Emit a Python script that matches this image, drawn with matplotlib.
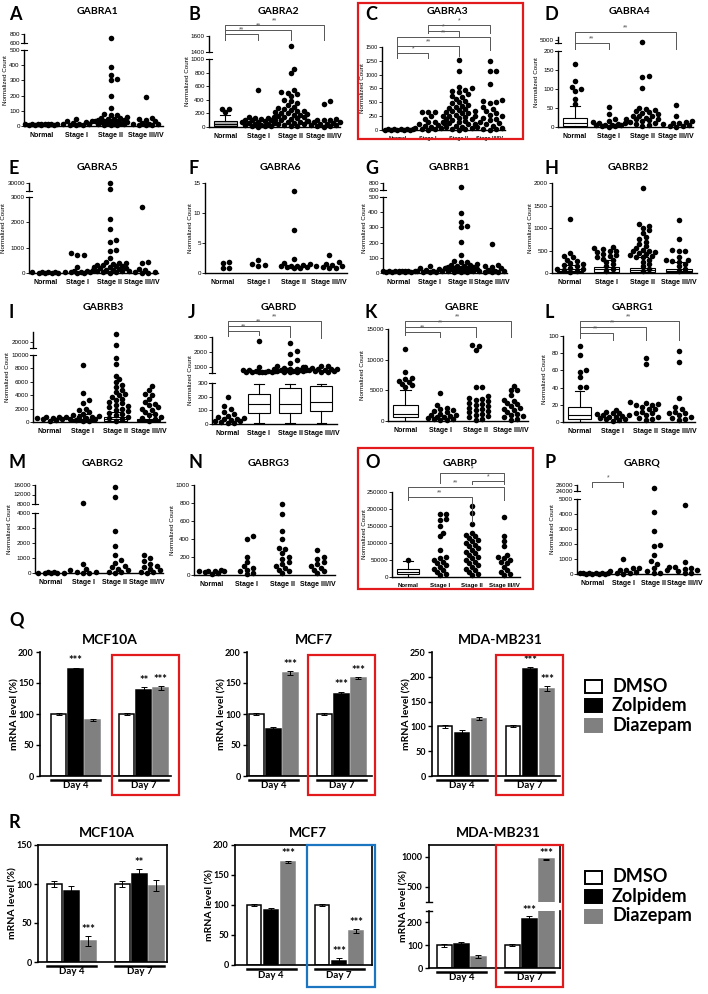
"""GABA-A receptor subunit counts by stage (TCGA) + qPCR bar charts"""

import numpy as np
import matplotlib
matplotlib.use("Agg")
import matplotlib.pyplot as plt
from matplotlib.transforms import blended_transform_factory
from matplotlib.patches import Rectangle
from matplotlib.lines import Line2D

W, H = 708, 994
plt.rcParams["font.family"] = ["Liberation Sans", "DejaVu Sans"]
HEAD = ["Lato", "DejaVu Sans"]

STAGES = ["Normal", "Stage I", "Stage II", "Stage III/IV"]

# ── 1. normalized counts (Normal, I, II, III/IV) ──
GABRA1 = [
    [5, 8, 10, 12, 14, 15, 10, 8, 12, 9, 11, 13, 7],
    [5, 10, 20, 30, 45, 15, 8, 12, 25, 6, 35],
    [720, 390, 335, 310, 300, 200, 120, 80, 75, 70, 60, 50, 50, 45, 45, 40, 40, 35, 35,
     30, 30, 25, 25, 20, 20, 15, 10, 10, 8, 5, 5],
    [190, 55, 45, 40, 30, 20, 15, 12, 10, 8, 5, 5],
]
GABRA2 = [
    [270, 265, 220],
    [550, 150, 140, 135, 130, 120, 110, 100, 100, 90, 80, 70, 60, 60, 50, 40, 30, 30, 20, 15, 10, 5],
    [1480, 850, 790, 540, 510, 500, 480, 450, 400, 380, 350, 330, 300, 280, 260, 250, 240, 230,
     220, 210, 200, 190, 180, 170, 160, 150, 140, 130, 120, 110, 100, 90, 80, 70, 60, 50, 40, 30, 20, 10],
    [380, 340, 120, 110, 100, 100, 90, 80, 70, 60, 50, 40, 30, 30, 20, 10, 5],
]
GABRA2_BOX = {0: (0, 10, 40, 90, 180)}
GABRA3 = [
    [5, 8, 10, 12, 15, 10, 8, 12, 6, 9],
    [330, 320, 320, 250, 200, 150, 140, 120, 100, 90, 80, 60, 40, 30, 20, 10, 5],
    [1270, 1060, 780, 750, 720, 700, 680, 650, 620, 600, 560, 520, 500, 480, 460, 440, 420, 400,
     380, 360, 350, 340, 320, 300, 300, 280, 260, 250, 250, 240, 220, 200, 200, 180, 160, 150,
     140, 120, 100, 100, 80, 60, 50, 40, 20, 10, 5],
    [1240, 1060, 1060, 840, 550, 520, 500, 480, 420, 380, 350, 300, 280, 250, 220, 200, 180, 150,
     120, 100, 80, 60, 40, 20, 10, 5],
]
GABRA4 = [
    [165, 120, 105, 100, 95, 75, 60],
    [52, 35, 20, 15, 12, 10, 10, 8, 6, 5, 5, 4, 3, 2, 1],
    [4900, 135, 132, 103, 50, 48, 45, 42, 40, 38, 35, 30, 30, 28, 25, 22, 20, 20, 18, 15, 12, 10, 8, 5, 3],
    [58, 30, 15, 12, 10, 10, 8, 5, 3, 2, 1],
]
GABRA4_BOX = {0: (0, 2, 10, 25, 55)}
GABRA5 = [
    [10, 20, 15, 25, 30, 20, 10, 15],
    [800, 720, 700, 250, 100, 80, 60, 50, 40, 30, 20, 10, 5],
    [30000, 22500, 2150, 1720, 1300, 1220, 920, 880, 600, 450, 400, 380, 350, 320, 300, 280, 260,
     240, 220, 200, 180, 150, 120, 100, 80, 60, 40, 20, 10],
    [2600, 420, 400, 150, 100, 80, 50, 30, 10, 5],
]
GABRA6 = [
    [1.6, 1.8, 0.8, 0.8],
    [1.5, 2.1, 1.2, 1.3],
    [13.7, 7.2, 2.4, 1.6, 1.5, 1.3, 1.2, 1.1, 1.1, 1.0, 1.0, 0.9, 0.8],
    [3.0, 1.8, 1.5, 1.3, 1.2, 1.1, 1.0, 0.9, 0.8],
]
GABRB1 = [
    [5, 8, 10, 12, 14, 15, 10, 8, 12, 9, 11, 13, 7],
    [5, 10, 20, 30, 45, 15, 8, 12, 25, 6, 35],
    [700, 395, 335, 310, 300, 205, 120, 80, 75, 70, 60, 50, 50, 45, 45, 40, 40, 35, 35,
     30, 30, 25, 25, 20, 20, 15, 10, 10, 8, 5, 5],
    [190, 55, 45, 40, 30, 20, 15, 12, 10, 8, 5, 5],
]
GABRB2 = [
    [1200, 450, 380, 350, 300, 260, 230, 200, 180, 150, 120, 100, 80, 60, 40, 20],
    [570, 550, 530, 500, 480, 460, 420, 400, 380, 350, 320, 300, 250, 200, 150, 100, 50],
    [1900, 1080, 1050, 1000, 950, 900, 800, 750, 700, 650, 600, 550, 520, 500, 480, 460, 440, 420,
     400, 380, 360, 350, 300, 250, 200, 150, 100, 50],
    [1170, 750, 520, 500, 480, 350, 300, 280, 260, 250, 200, 150, 100, 50],
]
GABRB2_BOX = {0: (0, 20, 50, 90, 180), 1: (0, 30, 80, 130, 300),
              2: (0, 20, 60, 110, 350), 3: (0, 20, 50, 90, 250)}
GABRB3 = [
    [800, 750, 700, 650, 600, 500, 400, 300, 200],
    [8500, 4300, 3300, 2900, 2000, 1800, 1500, 1200, 1000, 900, 800, 700, 600, 500, 400, 300, 200, 100],
    [26000, 17500, 9600, 8600, 6900, 6400, 5900, 5500, 5200, 4800, 4500, 4200, 4000, 3800, 3500,
     3300, 3000, 2800, 2600, 2400, 2200, 2000, 1800, 1600, 1400, 1200, 1000, 800, 600, 400, 200],
    [5300, 4800, 4200, 4000, 3500, 3000, 2700, 2500, 2200, 2000, 1800, 1500, 1200, 1000, 800, 600, 400, 200],
]
GABRB3_BOX = {1: (0, 150, 300, 500, 1200), 2: (0, 200, 400, 700, 1500), 3: (0, 150, 300, 500, 1200)}
GABRD = [
    [195, 130, 110, 90, 75, 60, 50, 45, 40, 35, 30, 25, 20, 15, 10, 5],
    [2750, 1000, 820, 780, 760, 740, 720, 700, 690, 680, 670, 660, 650],
    [2600, 2100, 1900, 1500, 1300, 1100, 1000, 950, 900, 870, 850, 830, 810, 790, 770, 750, 730,
     710, 690, 670, 650],
    [1100, 1050, 1000, 950, 900, 870, 840, 800, 770, 740, 710, 680, 650],
]
GABRD_BOX = {1: (5, 78, 145, 222, 295), 2: (5, 80, 150, 262, 295), 3: (5, 95, 160, 280, 295)}
GABRE = [
    [11800, 8000, 7000, 6800, 6500, 6300, 6000, 5800, 5500],
    [4600, 2600, 2200, 2000, 1800, 1600, 1400, 1200, 1000, 900, 800, 700, 600, 500, 400, 300, 200, 100],
    [12400, 12200, 11600, 5500, 5500, 4000, 3800, 3600, 3400, 3200, 3000, 2800, 2600, 2400, 2200,
     2000, 1800, 1600, 1400, 1200, 1000, 800, 600, 400, 200],
    [5700, 5100, 5000, 4200, 3500, 3300, 3000, 2700, 2500, 2200, 2000, 1800, 1500, 1200, 1000, 800, 600, 400, 200],
]
GABRE_BOX = {0: (0, 600, 1200, 2600, 5000)}
GABRG1 = [
    [88, 78, 60, 58, 52, 41, 41],
    [14, 12, 10, 10, 9, 8, 8, 7, 6, 6, 5, 4, 3, 2, 1],
    [74, 68, 23, 22, 21, 20, 20, 18, 15, 15, 12, 10, 10, 8, 6, 5, 4, 2],
    [82, 70, 28, 18, 15, 12, 10, 10, 8, 6, 5, 4, 2],
]
GABRG1_BOX = {0: (0, 3, 8, 17, 36)}
GABRG2 = [
    [20, 30, 10, 40, 50, 20, 10],
    [8500, 600, 300, 200, 100, 50, 20, 10],
    [15000, 11000, 2800, 1800, 1200, 900, 700, 500, 400, 300, 200, 100, 50, 20],
    [1200, 1000, 800, 600, 500, 400, 300, 200, 100, 50, 20],
]
GABRG3 = [
    [60, 50, 40, 30, 20, 10, 50, 40],
    [430, 400, 200, 150, 100, 80, 60, 40, 20, 10],
    [790, 680, 490, 400, 300, 290, 250, 200, 180, 150, 120, 100, 80, 60, 40, 20],
    [280, 200, 180, 150, 120, 100, 80, 60, 40, 20],
]
GABRP = [
    [50000],
    [185000, 185000, 170000, 168000, 150000, 130000, 120000, 80000, 60000, 55000, 50000, 45000,
     40000, 35000, 30000, 25000, 20000, 15000, 10000, 5000],
    [210000, 188000, 155000, 130000, 125000, 120000, 115000, 110000, 105000, 100000, 95000, 90000,
     85000, 80000, 75000, 70000, 65000, 60000, 55000, 50000, 45000, 40000, 35000, 30000, 25000,
     20000, 15000, 10000, 5000],
    [175000, 122000, 105000, 90000, 65000, 60000, 55000, 50000, 45000, 40000, 30000, 20000, 15000, 10000, 5000],
]
GABRP_BOX = {0: (0, 8000, 15000, 25000, 48000)}
GABRQ = [
    [20, 30, 40, 50, 60, 70, 50, 40, 30, 20],
    [1000, 400, 380, 300, 250, 200, 150, 100, 50, 20],
    [25000, 4150, 2900, 1950, 1880, 1300, 850, 650, 400, 300, 200, 100, 50],
    [4600, 800, 500, 450, 400, 350, 300, 200, 100, 50],
]

# ── 2. qPCR mRNA level (%) : [Day 4, Day 7] x [DMSO, Zolpidem, Diazepam] ──
TREATMENTS = ["DMSO", "Zolpidem", "Diazepam"]
DAYS = ["Day 4", "Day 7"]
Q_MCF10A = [[100, 172, 90], [100, 139, 142]]
Q_MCF10A_ERR = [[2, 3, 2], [2, 4, 3]]
Q_MCF10A_SIG = [["", "***", ""], ["", "**", "***"]]
Q_MCF7 = [[100, 76, 166], [100, 132, 158]]
Q_MCF7_ERR = [[2, 3, 3], [2, 4, 2]]
Q_MCF7_SIG = [["", "", "***"], ["", "***", "***"]]
Q_MDA = [[100, 87, 115], [100, 215, 176]]
Q_MDA_ERR = [[3, 6, 3], [2, 4, 5]]
Q_MDA_SIG = [["", "", ""], ["", "***", "***"]]
R_MCF10A = [[100, 91, 27], [100, 113, 98]]
R_MCF10A_ERR = [[4, 6, 6], [4, 6, 7]]
R_MCF10A_SIG = [["", "", "***"], ["", "**", ""]]
R_MCF7 = [[100, 92, 172], [100, 7, 57]]
R_MCF7_ERR = [[2, 3, 2], [2, 4, 3]]
R_MCF7_SIG = [["", "", "***"], ["", "***", "***"]]
R_MDA = [[100, 105, 50], [100, 217, 960]]
R_MDA_ERR = [[6, 7, 8], [5, 10, 5]]
R_MDA_SIG = [["", "", ""], ["", "***", "***"]]

RED, BLUE = "#e31a1c", "#1b75c0"
FACE = ["white", "black", "#808080"]
EDGE = ["black", "black", "#808080"]

fig = plt.figure(figsize=(W / 100, H / 100), dpi=100)


def fx(p):
    return p / W


def fy(p):
    return 1 - p / H


def add_ax(l, t, r, b):
    return fig.add_axes([l / W, 1 - b / H, (r - l) / W, (b - t) / H])


def seg_y(v, segs):
    for lo, hi, t, b, _ in segs:
        if lo <= v <= hi:
            return b - (v - lo) / (hi - lo) * (b - t)
    if v > segs[0][1]:
        return segs[0][2]
    for lo, hi, t, b, _ in segs:
        if v > hi:
            return t
    return segs[-1][3]


def swarm(ypx, d=4.4, step=3.2, maxw=16):
    placed, offs = [], np.zeros(len(ypx))
    for i in np.argsort(ypx)[::-1]:
        y, best, score, k = ypx[i], 0.0, -1, 0
        while True:
            off = ((k + 1) // 2) * step * (1 if k % 2 else -1)
            if abs(off) > maxw:
                break
            mind = min([np.hypot(off - px, y - py) for px, py in placed], default=99)
            if mind >= d:
                best = off
                break
            if mind > score:
                score, best = mind, off
            k += 1
        placed.append((best, y))
        offs[i] = best
    return offs


def bracket(ax, g1, g2, yl, e1, e2, lab):
    tr = blended_transform_factory(ax.transData, fig.transFigure)
    fig.add_artist(Line2D([g1, g1, g2, g2], [fy(e1), fy(yl), fy(yl), fy(e2)],
                          transform=tr, color="#555555", lw=0.7))
    fig.text((g1 + g2) / 2, fy(yl - 0.3), lab, transform=tr, ha="center", va="bottom",
             size=5, color="#555555")


# ── 3. 4x4 grid of dot plots ──
ROW_Y = [15, 168, 312, 463]
TITLE_Y = [12, 168, 307, 463]
COL_X = [9, 188, 365, 545]
XT_SIZE = {"C": 3.8, "O": 4.4}
YT_SIZE = {"C": 3.9}
YLAB_X = {"C": 362, "O": 364}
GENES = [
    ("A", "GABRA1", GABRA1, {}, 0, 0, 24, 163,
     [(600, 800, 34, 43, [600, 800]), (0, 500, 50, 126, [0, 100, 200, 300, 400, 500])], []),
    ("B", "GABRA2", GABRA2, GABRA2_BOX, 0, 1, 209, 340,
     [(1400, 1600, 36, 52, [1400, 1600]), (0, 1000, 59, 127, [0, 200, 400, 600, 800, 1000])],
     [(0, 1, 34, 40, 40, "**"), (0, 2, 30, 40, 40, "**"), (0, 3, 25, 40, 40, "**")]),
    ("C", "GABRA3", GABRA3, {}, 0, 2, 382, 505,
     [(0, 1500, 47, 130, [0, 250, 500, 750, 1000, 1250, 1500])],
     [(1, 3, 25, 33, 33, "*"), (1, 2, 30.5, 33, 36, "*"), (0, 3, 37, 58, 50, "**"),
      (0, 2, 46, 58, 56, "**"), (0, 1, 53, 58, 58, "*")]),
    ("D", "GABRA4", GABRA4, GABRA4_BOX, 0, 3, 558, 693,
     [(4800, 5200, 37, 43, [5000]), (0, 200, 51, 127, [0, 50, 100, 150, 200])],
     [(0, 1, 43, 49, 49, "**"), (0, 3, 32, 49, 49, "**")]),
    ("E", "GABRA5", GABRA5, {}, 1, 0, 29, 158,
     [(20000, 30000, 183, 191, [30000]), (0, 3000, 197, 273, [0, 1000, 2000, 3000])], []),
    ("F", "GABRA6", GABRA6, {}, 1, 1, 205, 347, [(0, 15, 183, 273, [0, 5, 10, 15])], []),
    ("G", "GABRB1", GABRB1, {}, 1, 2, 383, 507,
     [(600, 800, 183, 190, [600, 800]), (0, 500, 197, 273, [0, 100, 200, 300, 400, 500])], []),
    ("H", "GABRB2", GABRB2, GABRB2_BOX, 1, 3, 552, 697,
     [(0, 2000, 183, 273, [0, 500, 1000, 1500, 2000])], []),
    ("I", "GABRB3", GABRB3, GABRB3_BOX, 2, 0, 33, 165,
     [(15000, 28000, 332, 348, [20000]), (0, 10000, 355, 422, [0, 2000, 4000, 6000, 8000, 10000])], []),
    ("J", "GABRD", GABRD, GABRD_BOX, 2, 1, 212, 337,
     [(600, 3000, 337, 373, [1000, 2000, 3000]), (0, 300, 383, 424, [0, 100, 200, 300])],
     [(0, 1, 331, 336, 335, "**"), (0, 2, 326, 336, 337, "**"), (0, 3, 321, 336, 338, "**")]),
    ("K", "GABRE", GABRE, GABRE_BOX, 2, 2, 388, 528,
     [(0, 15000, 329, 421, [0, 5000, 10000, 15000])],
     [(0, 1, 332, 335, 337, "**"), (0, 2, 326.5, 335, 337, "**"), (0, 3, 321, 335, 337, "**")]),
    ("L", "GABRG1", GABRG1, GABRG1_BOX, 2, 3, 563, 695,
     [(0, 100, 336, 422, [0, 20, 40, 60, 80, 100])],
     [(0, 1, 333, 338, 340, "**"), (0, 2, 327, 338, 340, "**"), (0, 3, 321, 338, 340, "**")]),
    ("M", "GABRG2", GABRG2, {}, 3, 0, 35, 163,
     [(8000, 16000, 485, 504, [8000, 12000, 16000]), (0, 4000, 513, 573, [0, 1000, 2000, 3000, 4000])], []),
    ("N", "GABRG3", GABRG3, {}, 3, 1, 194, 335,
     [(0, 1000, 485, 575, [0, 200, 400, 600, 800, 1000])], []),
    ("O", "GABRP", GABRP, GABRP_BOX, 3, 2, 392, 520,
     [(0, 250000, 492, 577, [0, 50000, 100000, 150000, 200000, 250000])],
     [(1, 3, 473, 483, 483, "*"), (2, 3, 481, 484, 484, "*"), (0, 3, 487, 500, 500, "**"),
      (0, 2, 497, 500, 522, "**")]),
    ("P", "GABRQ", GABRQ, {}, 3, 3, 577, 700,
     [(24000, 26000, 485, 491, [24000, 26000]), (0, 5000, 499, 574, [0, 1000, 2000, 3000, 4000, 5000])],
     [(0, 1, 482, 487, 487, "*")]),
]

for letter, title, vals, boxes, row, col, l, r, segs, brackets in GENES:
    axes = []
    for i, (lo, hi, t, b, ticks) in enumerate(segs):
        ax = add_ax(l, t, r, b)
        ax.set_xlim(-0.5, 3.5)
        ax.set_ylim(lo, hi)
        ax.set_yticks(ticks)
        ax.set_yticklabels([str(v) for v in ticks])
        ax.patch.set_alpha(0)
        for s in ["top", "right"]:
            ax.spines[s].set_visible(False)
        for s in ["left", "bottom"]:
            ax.spines[s].set_linewidth(1.0)
        if i < len(segs) - 1:
            ax.spines["bottom"].set_visible(False)
            ax.set_xticks([])
        else:
            ax.set_xticks(range(4))
            ax.set_xticklabels(STAGES, fontsize=XT_SIZE.get(letter, 5), fontweight="bold")
        ax.tick_params(axis="y", labelsize=YT_SIZE.get(letter, 4.5), length=2, width=0.6, pad=1)
        ax.tick_params(axis="x", length=0, pad=4)
        axes.append(ax)
        if i > 0:
            for p in (segs[i - 1][3], t):
                fig.add_artist(Line2D([fx(l - 3), fx(l + 3)], [fy(p), fy(p)], color="black", lw=0.8))

    for g, (lo_w, q1, med, q3, hi_w) in boxes.items():
        fill = "#b0b0b0" if title == "GABRA2" else "white"
        for ax in axes:
            ax.bxp([dict(whislo=lo_w, q1=q1, med=med, q3=q3, whishi=hi_w, fliers=[])],
                   positions=[g], widths=0.7, capwidths=0.3, showfliers=False, patch_artist=True,
                   manage_ticks=False,
                   boxprops=dict(facecolor=fill, edgecolor="black", lw=0.8),
                   medianprops=dict(color="black", lw=0.8),
                   whiskerprops=dict(color="black", lw=0.8), capprops=dict(color="black", lw=0.8))

    ppu = (r - l) / 4
    for g, v in enumerate(vals):
        v = np.asarray(v, float)
        ypx = np.array([seg_y(x, segs) for x in v])
        xs = g + swarm(ypx) / ppu
        for ax, (lo, hi, _, _, _) in zip(axes, segs):
            m = (v >= lo) & (v <= hi)
            ax.plot(xs[m], v[m], "o", ms=4.0, color="black", mew=0, clip_on=False, zorder=3)

    for br in brackets:
        bracket(axes[0], *br)

    ndig = max(len(str(tk)) for s in segs for tk in s[4])
    ylx = YLAB_X.get(letter, l - 8 - 3.4 * ndig)
    fig.text(fx(ylx), fy((segs[0][2] + segs[-1][3]) / 2), "Normalized Count",
             rotation=90, size=4.5, ha="center", va="center")
    fig.text(fx((l + r) / 2 + 4), fy(TITLE_Y[row]), title, size=7.5, weight="bold", family=HEAD,
             ha="center", va="center")
    fig.text(fx(COL_X[col]), fy(ROW_Y[row]), letter, size=13, weight="bold", family=HEAD,
             ha="left", va="center")


# ── 4. qPCR bar charts ──
def bar_panel(l, r, segs, xmin, means, errs, sigs, title, frame):
    xmax = xmin + (r - l) / 17
    axes = []
    for i, (lo, hi, t, b, ticks) in enumerate(segs):
        ax = add_ax(l, t, r, b)
        ax.set_xlim(xmin, xmax)
        ax.set_ylim(lo, hi)
        ax.set_yticks(ticks)
        ax.set_xticks([])
        ax.tick_params(axis="y", labelsize=6.5, length=3, width=1.0, pad=1.5)
        for lab in ax.get_yticklabels():
            lab.set_family(HEAD)
            lab.set_weight("bold")
        for s in ax.spines.values():
            s.set_linewidth(1.2)
        if not frame:
            ax.spines["top"].set_visible(False)
            ax.spines["right"].set_visible(False)
        if i > 0:
            ax.spines["top"].set_visible(False)
        if i < len(segs) - 1:
            ax.spines["bottom"].set_visible(False)
        for g in range(2):
            for k in range(3):
                x = g * 4 + k
                ax.bar(x, means[g][k], width=0.85, color=FACE[k], edgecolor=EDGE[k], lw=1.1, zorder=2)
                ax.errorbar(x, means[g][k], yerr=errs[g][k], fmt="none", ecolor="black",
                            elinewidth=0.7, capsize=2, capthick=0.7, zorder=3)
                top = means[g][k] + errs[g][k] + (hi - lo) * 0.01
                if sigs[g][k] and lo <= top < hi:
                    ax.text(x, top, sigs[g][k], ha="center", va="bottom", size=8,
                            weight="bold", family=HEAD, zorder=4)
        axes.append(ax)
    low = axes[-1]
    b = segs[-1][3]
    tr = blended_transform_factory(low.transData, fig.transFigure)
    for g, day in enumerate(DAYS):
        fig.add_artist(Line2D([g * 4 - 0.45, g * 4 + 2.45], [fy(b + 3.5), fy(b + 3.5)],
                              transform=tr, color="black", lw=1.8))
        fig.text(g * 4 + 1, fy(b + 5.5), day, transform=tr, ha="center", va="top",
                 size=7, weight="bold", family=HEAD)
    fig.text(fx((l + r) / 2 + 4), fy(segs[0][2] - 12), title, size=10, weight="bold",
             family=HEAD, ha="center", va="center")
    fig.text(fx(l - 25), fy((segs[0][2] + b) / 2), "mRNA level (%)", rotation=90, size=7.5,
             weight="bold", family=HEAD, ha="center", va="center")
    if len(segs) > 1:
        for p in (segs[0][3], segs[1][2]):
            fig.add_artist(Line2D([fx(l - 3), fx(l + 3)], [fy(p), fy(p)], color="black", lw=1.0))
    return axes


T50 = [0, 50, 100, 150, 200]
bar_panel(40, 171, [(0, 200, 652, 776, T50)], -1.1, Q_MCF10A, Q_MCF10A_ERR, Q_MCF10A_SIG, "MCF10A", False)
bar_panel(247, 372, [(0, 200, 652, 776, T50)], -0.55, Q_MCF7, Q_MCF7_ERR, Q_MCF7_SIG, "MCF7", False)
bar_panel(432, 560, [(0, 250, 652, 776, T50 + [250])], -0.76, Q_MDA, Q_MDA_ERR, Q_MDA_SIG, "MDA-MB231", False)
bar_panel(38, 167, [(0, 150, 845, 962, [0, 50, 100, 150])], -0.97, R_MCF10A, R_MCF10A_ERR, R_MCF10A_SIG, "MCF10A", True)
bar_panel(235, 372, [(0, 200, 845, 965, T50)], -1.13, R_MCF7, R_MCF7_ERR, R_MCF7_SIG, "MCF7", True)
bar_panel(429, 560, [(250, 1200, 845, 902, [500, 1000]), (0, 250, 911, 968, [0, 100, 200])], -0.9,
          R_MDA, R_MDA_ERR, R_MDA_SIG, "MDA-MB231", True)

for y0 in (686, 877):
    for k, lab in enumerate(TREATMENTS):
        yc = y0 + k * 19.5
        fig.add_artist(Rectangle((fx(585), fy(yc + 6.5)), 17 / W, 13 / H, transform=fig.transFigure,
                                 facecolor=FACE[k], edgecolor=EDGE[k] if k else "black", lw=1.4))
        fig.text(fx(612), fy(yc), lab, size=13, weight="bold", family=HEAD, ha="left", va="center")

fig.text(fx(9), fy(620), "Q", size=13, weight="bold", family=HEAD, ha="left", va="center")
fig.text(fx(9), fy(822), "R", size=13, weight="bold", family=HEAD, ha="left", va="center")

# highlight frames
for (l, t, r, b), c in [((358, 3, 523, 139), RED), ((358, 448, 533, 589), RED),
                        ((112, 655, 179, 795), RED), ((308, 655, 375, 795), RED),
                        ((496, 655, 563, 795), RED), ((496, 845, 563, 987), RED),
                        ((307, 845, 375, 987), BLUE)]:
    fig.add_artist(Rectangle((fx(l), fy(b)), (r - l) / W, (b - t) / H, transform=fig.transFigure,
                             fill=False, edgecolor=c, lw=1.6, zorder=10))

fig.savefig("out.png", dpi=100)
